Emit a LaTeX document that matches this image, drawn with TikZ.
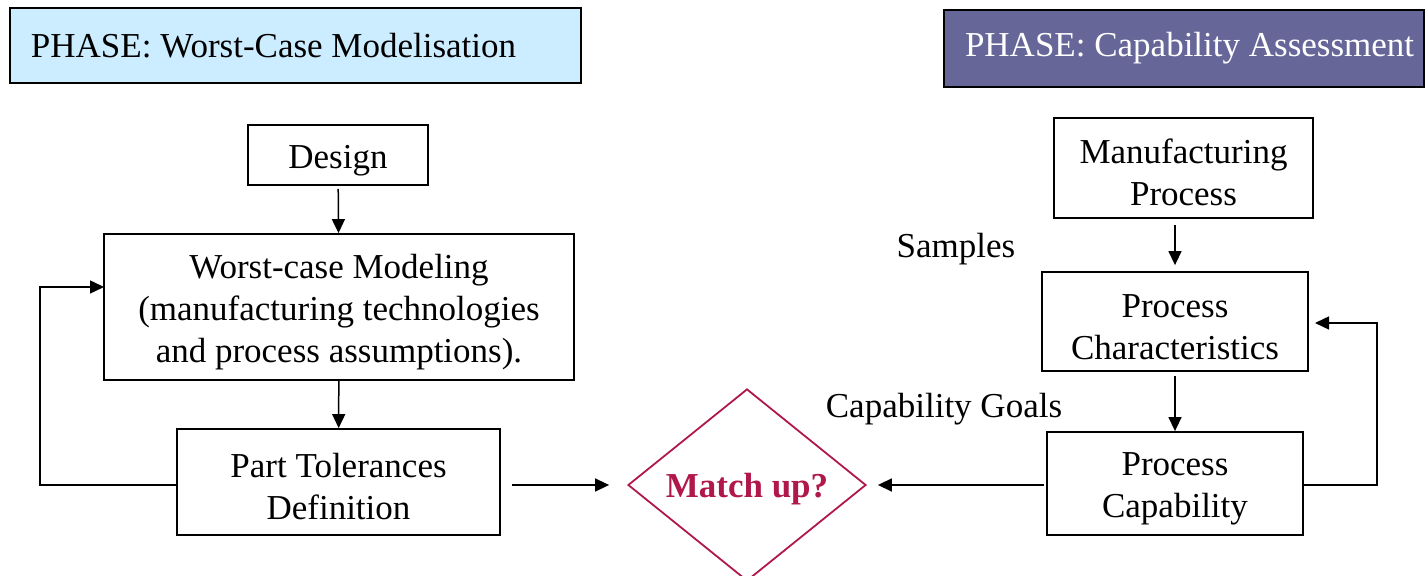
\documentclass[tikz,border=0pt]{standalone}
\usepackage{fontspec}
\setmainfont{Liberation Serif}
\usetikzlibrary{shapes.geometric,arrows.meta}
\definecolor{phaseblue}{HTML}{CCECFF}
\definecolor{phasepurple}{HTML}{666699}
\definecolor{matchred}{HTML}{B0174A}
% tall invisible strut that lowers the text block inside its box
\newcommand{\toppad}{\rule{0pt}{17pt}}

\begin{document}
\begin{tikzpicture}[x=0.5pt,y=-0.5pt,
  every node/.style={font=\fontsize{17.5pt}{21pt}\selectfont},
  flowbox/.style={draw, line width=0.9pt, inner sep=0pt, align=center},
  phasebox/.style={draw, line width=0.9pt, inner xsep=10.5pt, inner ysep=0pt},
  decision/.style={diamond, shape aspect=1.24, draw=matchred, line width=0.9pt, inner sep=0pt,
    text=matchred, font=\fontsize{17.5pt}{21pt}\selectfont\bfseries},
  arr/.style={line width=0.75pt, -{Triangle[length=7pt,width=6.5pt]}}]
\useasboundingbox (0,0) rectangle (1425,576);

% phase headers
\node[phasebox, fill=phaseblue, minimum width=285.5pt, minimum height=37.5pt]
  (phL) at (295.5,45.5) {\makebox[264.5pt][l]{PHASE: Worst-Case Modelisation}};
\node[phasebox, fill=phasepurple, text=white, minimum width=240pt, minimum height=38.5pt]
  (phR) at (1184,48.5) {\makebox[219pt][l]{PHASE: Capability Assessment}};

% worst-case modelisation branch
\node[flowbox, minimum width=90pt, minimum height=30pt] (design) at (338,155) {\toppad Design};
\node[flowbox, minimum width=235pt, minimum height=73pt] (worst) at (339,307)
  {\toppad Worst-case Modeling\\(manufacturing technologies\\and process assumptions).};
\node[flowbox, minimum width=161.5pt, minimum height=53pt] (part) at (338.5,482)
  {\toppad Part Tolerances\\Definition};

% capability assessment branch
\node[flowbox, minimum width=129.5pt, minimum height=50pt] (manuf) at (1183.5,168)
  {\toppad Manufacturing\\Process};
\node[flowbox, minimum width=133pt, minimum height=49.5pt] (pc) at (1175,321.5)
  {\toppad Process\\Characteristics};
\node[flowbox, minimum width=128pt, minimum height=51.5pt] (cap) at (1175,483.5)
  {\toppad Process\\Capability};

% decision
\node[decision, minimum width=119pt, minimum height=96pt] (match) at (747,485)
  {\rule{0pt}{16pt}Match up?};

% free labels
\node (samples) at (956,249) {Samples};
\node (goals) at (944,409) {Capability Goals};

% connectors
\draw[arr, shorten <=1.5pt] (design) -- (worst);
\draw[arr] (worst) -- (part);
\coordinate (wIn) at (104,287);
\draw[arr] (part.west |- match.west) -- ++(-136,0) |- (wIn);
\draw[arr, shorten <=5.5pt, shorten >=9pt] (part.east |- match.west) -- (match.west);

\draw[arr, shorten <=3pt, shorten >=3pt] (manuf.south -| pc.north) -- (pc.north);
\draw[arr, shorten <=2pt] (pc.south) -- (cap.north);
\draw[arr, shorten <=1pt, shorten >=5.5pt] (cap.west |- match.east) -- (match.east);
\coordinate (pcIn) at (1315,323);
\draw[arr] (cap.east |- match.east) -- ++(73,0) |- (pcIn);
\end{tikzpicture}
\end{document}
